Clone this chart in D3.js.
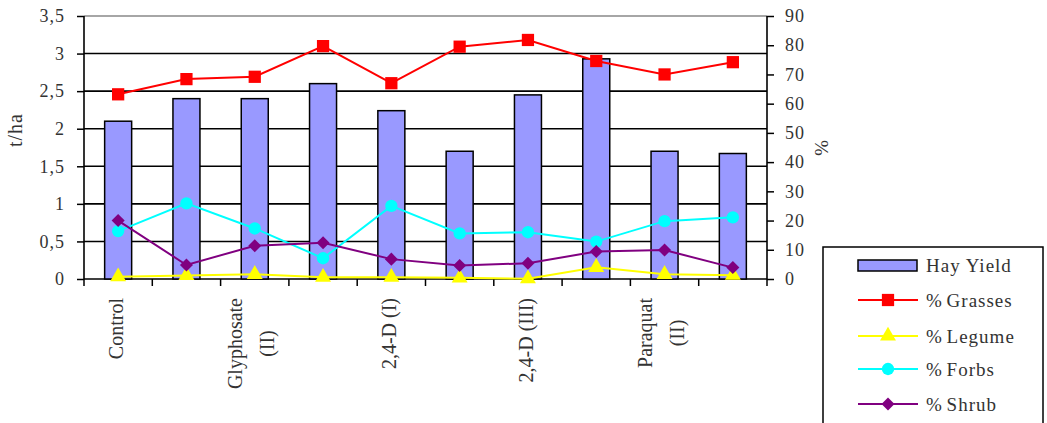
<html>
<head>
<meta charset="UTF-8">
<script src="https://cdnjs.cloudflare.com/ajax/libs/d3/7.8.5/d3.min.js"></script>
<style>
  body { margin: 0; background: #fff; }
  text { font-family: "Liberation Serif", "Times New Roman", serif; fill: #333; }
</style>
</head>
<body>
<svg id="chart" width="1047" height="423"></svg>
<script>
// data
var categories = ["Control", "c2", "Glyphosate\n(II)", "c4", "2,4-D (I)", "c6", "2,4-D (III)", "c8", "Paraquat\n(II)", "c10"];
var shownLabels = [0, 2, 4, 6, 8];
var hayYield = [2.1, 2.4, 2.4, 2.6, 2.24, 1.7, 2.45, 2.93, 1.7, 1.67];
var grasses = [63.2, 68.4, 69.2, 79.7, 67.0, 79.5, 81.8, 74.6, 70.0, 74.2];
var legume = [0.8, 1.2, 1.6, 0.6, 0.6, 0.4, 0.1, 4.0, 1.6, 1.3];
var forbs = [16.4, 25.9, 17.3, 7.1, 25.0, 15.6, 16.0, 12.8, 19.8, 21.1];
var shrub = [20.0, 4.8, 11.4, 12.4, 6.8, 4.6, 5.4, 9.4, 9.9, 3.9];
var leftTicks = [0, 0.5, 1, 1.5, 2, 2.5, 3, 3.5];
var rightTicks = [0, 10, 20, 30, 40, 50, 60, 70, 80, 90];

var svg = d3.select("#chart");
var pLeft = 84, pRight = 767, pTop = 16, pBottom = 279;

var x = d3.scaleBand().domain(d3.range(categories.length)).range([pLeft, pRight]).padding(0);
var yL = d3.scaleLinear().domain([0, 3.5]).range([pBottom, pTop]);
var yR = d3.scaleLinear().domain([0, 90]).range([pBottom, pTop]);
var fmt = d => String(d).replace(".", ",");

// gridlines
svg.append("g").selectAll("line")
    .data(leftTicks)
    .enter().append("line")
    .attr("x1", pLeft).attr("x2", pRight)
    .attr("y1", d => yL(d)).attr("y2", d => yL(d))
    .style("stroke", d => d === 3.5 ? "#888" : "#000")
    .style("stroke-width", 1.6);

// bars
var bw = 27;
svg.append("g").selectAll("rect")
    .data(hayYield)
    .enter().append("rect")
    .attr("x", (d, i) => x(i) + x.bandwidth() / 2 - bw / 2)
    .attr("y", d => yL(d))
    .attr("width", bw)
    .attr("height", d => pBottom - yL(d))
    .style("fill", "#9999ff")
    .style("stroke", "#000")
    .style("stroke-width", 1.5);

// left axis
var gL = svg.append("g").attr("transform", `translate(${pLeft},0)`)
    .call(d3.axisLeft(yL).tickValues(leftTicks).tickFormat(fmt).tickSize(7).tickPadding(12));
// right axis
var gR = svg.append("g").attr("transform", `translate(${pRight},0)`)
    .call(d3.axisRight(yR).tickValues(rightTicks).tickSize(7).tickPadding(11));
[gL, gR].forEach(g => {
    g.select(".domain").attr("d", `M0,${pBottom}V${pTop}`).style("stroke", "#000").style("stroke-width", 1.6);
    g.selectAll(".tick line").style("stroke", "#000").style("stroke-width", 1.5);
    g.selectAll(".tick text").style("font-family", "Liberation Serif").style("font-size", "18px")
        .style("letter-spacing", "1px").style("fill", "#333");
});

// category boundary ticks
svg.append("g").selectAll("line")
    .data(d3.range(categories.length + 1))
    .enter().append("line")
    .attr("x1", d => pLeft + d * x.bandwidth()).attr("x2", d => pLeft + d * x.bandwidth())
    .attr("y1", pBottom).attr("y2", pBottom + 7)
    .style("stroke", "#000").style("stroke-width", 1.5);

// category labels (rotated)
shownLabels.forEach(i => {
    var lines = categories[i].split("\n");
    var cx = x(i) + x.bandwidth() / 2;
    var g = svg.append("g");
    var n = lines.length;
    var ts = lines.map((ln, k) => g.append("text")
        .attr("transform", `translate(${cx + (k - (n - 1) / 2) * 32 + (n > 1 ? 3 : 5)},0) rotate(-90)`)
        .style("font-size", "20px")
        .text(ln));
    var maxW = d3.max(ts, t => t.node().getComputedTextLength());
    ts.forEach(t => t.attr("x", -(298 + maxW / 2)).attr("text-anchor", "middle"));
});

// axis titles
svg.append("text").attr("transform", "translate(22,130) rotate(-90)")
    .attr("text-anchor", "middle").style("font-size", "20px").style("letter-spacing", "1px").text("t/ha");
svg.append("text").attr("transform", "translate(815,148) rotate(90)")
    .attr("text-anchor", "middle").style("font-size", "19px").text("%");

// line series
var diamond = { draw: function (ctx, size) {
    var r = Math.sqrt(size / 2);
    ctx.moveTo(0, -r); ctx.lineTo(r, 0); ctx.lineTo(0, r); ctx.lineTo(-r, 0); ctx.closePath();
} };
var series = [
    { name: "% Grasses", values: grasses, color: "#ff0000", shape: d3.symbolSquare, size: 150 },
    { name: "% Legume", values: legume, color: "#ffff00", shape: d3.symbolTriangle, size: 110 },
    { name: "% Forbs", values: forbs, color: "#00ffff", shape: d3.symbolCircle, size: 120 },
    { name: "% Shrub", values: shrub, color: "#800080", shape: diamond, size: 85 }
];
var line = d3.line().x((d, i) => x(i) + x.bandwidth() / 2).y(d => yR(d));
series.forEach(s => {
    svg.append("path").datum(s.values).attr("d", line)
        .style("fill", "none").style("stroke", s.color).style("stroke-width", 2);
    svg.append("g").selectAll("path")
        .data(s.values)
        .enter().append("path")
        .attr("transform", (d, i) => `translate(${x(i) + x.bandwidth() / 2},${yR(d)})`)
        .attr("d", d3.symbol().type(s.shape).size(s.size))
        .style("fill", s.color);
});

// legend
var lg = svg.append("g");
lg.append("rect").attr("x", 823).attr("y", 247).attr("width", 220).attr("height", 200)
    .style("fill", "#fff").style("stroke", "#000").style("stroke-width", 1.5);
var rows = [265, 300, 336, 369, 404];
lg.append("rect").attr("x", 858).attr("y", rows[0] - 5).attr("width", 59).attr("height", 11)
    .style("fill", "#9999ff").style("stroke", "#000").style("stroke-width", 1.5);
lg.append("text").attr("x", 926).attr("y", rows[0] + 7).style("font-size", "19px")
    .style("letter-spacing", "1px").text("Hay Yield");
series.forEach((s, k) => {
    var yy = rows[k + 1];
    lg.append("line").attr("x1", 858).attr("x2", 918).attr("y1", yy).attr("y2", yy)
        .style("stroke", s.color).style("stroke-width", 2);
    lg.append("path").attr("transform", `translate(888,${yy})`)
        .attr("d", d3.symbol().type(s.shape).size(s.size)).style("fill", s.color);
    lg.append("text").attr("x", 926).attr("y", yy + 7).style("font-size", "19px")
        .style("letter-spacing", "1px").style("word-spacing", "-2px").text(s.name);
});
</script>
</body>
</html>
